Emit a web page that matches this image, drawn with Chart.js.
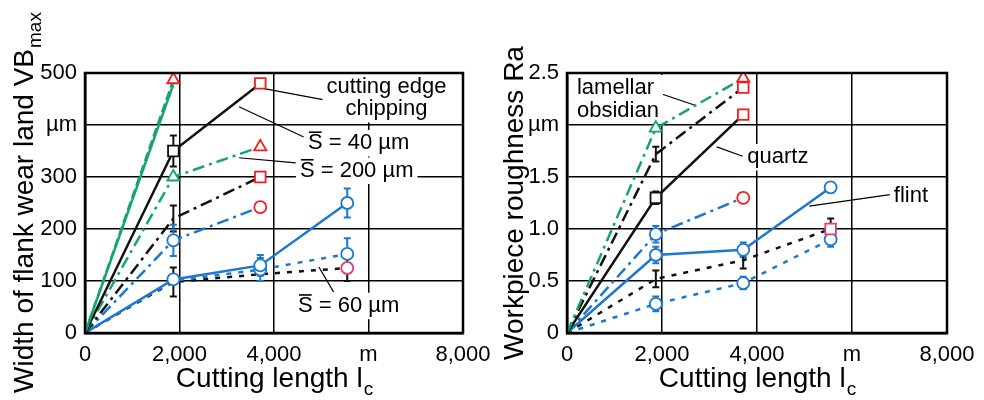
<!DOCTYPE html>
<html>
<head>
<meta charset="utf-8">
<script src="https://cdn.jsdelivr.net/npm/chart.js@4.4.1/dist/chart.umd.min.js"></script>
<style>
  body { margin: 0; background: #fff; width: 984px; height: 400px; overflow: hidden; position: relative; }
  .box { position: absolute; top: 0; height: 400px; }
</style>
</head>
<body>
<div class="box" style="left:0;width:500px"><canvas id="wear"></canvas></div>
<div class="box" style="left:490px;width:494px"><canvas id="rough"></canvas></div>
<script>
// cutting length of the measuring points (m)
const cuttingLength = [0, 1870, 3710, 5550];
const xTicks = ['0', '2,000', '4,000', 'm', '8,000'];
const wearTicks = ['0', '100', '200', '300', 'µm', '500'];
const roughTicks = ['0', '0.5', '1.0', '1.5', 'µm', '2.5'];

// width of flank wear land VBmax (µm)
const wearGreenSolid = [0, 478];
const wearGreenDash = [0, 487];
const wearBlackSolid = [0, 350, 480];
const wearGreenDashDot = [0, 300, 358];
const wearBlackDashDot = [0, 220, 300];
const wearBlueDashDot = [0, 178, 242];
const wearBlueSolid = [0, 103, 130, 250];
const wearBlueDot = [0, 100, 122, 152];
const wearBlackDot = [0, 98, 113, 125];
// scatter (half width of error bars)
const wearBlackSolidErr = [0, 30, 0];
const wearBlackDashDotErr = [0, 25, 0];
const wearBlueDashDotErr = [0, 30, 0];
const wearBlueSolidErr = [0, 0, 20, 28];
const wearBlueDotErr = [0, 0, 22, 30];
const wearBlackDotErr = [0, 28, 0, 25];

// workpiece roughness Ra (µm)
const roughGreenDashDot = [0, 1.97, 2.45];
const roughBlackDashDot = [0, 1.72, 2.36];
const roughBlackSolid = [0, 1.3, 2.1];
const roughBlueDashDot = [0, 0.95, 1.3];
const roughBlueSolid = [0, 0.75, 0.8, 1.4];
const roughBlackDot = [0, 0.52, 0.7, 1.0];
const roughBlueDot = [0, 0.28, 0.48, 0.9];
const roughBlackDashDotErr = [0, 0.07, 0];
const roughBlackSolidErr = [0, 0.06, 0];
const roughBlueDashDotErr = [0, 0.08, 0];
const roughBlueSolidErr = [0, 0.08, 0.07, 0.05];
const roughBlackDotErr = [0, 0.08, 0.08, 0.1];
const roughBlueDotErr = [0, 0.07, 0.06, 0.07];

// labels and leader lines (data units)
const wearNotes = [
  { x: 6380, y: 452, lines: ['cutting edge', 'chipping'] },
  { x: 5790, y: 365, lines: ['S = 40 µm'], bar: true },
  { x: 5750, y: 312, lines: ['S = 200 µm'], bar: true },
  { x: 5580, y: 52, lines: ['S = 60 µm'], bar: true }
];
const wearLeaders = [[3790, 470, 5260, 445], [3260, 435, 4630, 377], [3260, 337, 4460, 327], [4950, 127, 5260, 79]];
const roughNotes = [
  { x: 210, y: 2.245, lines: ['lamellar', 'obsidian'], align: 'left' },
  { x: 4440, y: 1.69, lines: ['quartz'] },
  { x: 7240, y: 1.32, lines: ['flint'] }
];
const roughLeaders = [[1916, 2.31, 2695, 2.19], [3150, 1.79, 3700, 1.70], [5100, 1.22, 6800, 1.33]];

const G = '#14a56d', B = '#1b78d0', K = '#111111', R = '#f21c1c', P = '#e0407a';
const FONT = '"Liberation Sans", Arial, sans-serif';
const SOLID = [], DASH = [9, 4], DASHDOT = [12, 5, 3, 5], DOT = [5, 7];

function line(ys, color, dash, shape, marks, errs, errColor) {
  return {
    data: ys.map((y, i) => ({ x: cuttingLength[i], y: y })),
    borderColor: color,
    borderWidth: 2.5,
    borderDash: dash,
    tension: 0,
    pointStyle: shape,
    pointRadius: ys.map((y, i) => (marks && marks[i]) ? (shape === 'rect' ? 7.5 : shape === 'triangle' ? 7 : 6) : 0),
    pointBorderColor: ys.map((y, i) => (marks && marks[i]) || color),
    pointBackgroundColor: '#fff',
    pointBorderWidth: 1.8,
    errs: errs || [],
    errColor: errColor || color
  };
}

const notesPlugin = {
  id: 'notes',
  beforeDatasetsDraw(chart, args, opts) {
    const ctx = chart.ctx, xs = chart.scales.x, ys = chart.scales.y;
    ctx.save();
    ctx.strokeStyle = '#000';
    ctx.lineWidth = 1.2;
    (opts.leaders || []).forEach(l => {
      ctx.beginPath();
      ctx.moveTo(xs.getPixelForValue(l[0]), ys.getPixelForValue(l[1]));
      ctx.lineTo(xs.getPixelForValue(l[2]), ys.getPixelForValue(l[3]));
      ctx.stroke();
    });
    ctx.font = '22px ' + FONT;
    ctx.textBaseline = 'middle';
    (opts.notes || []).forEach(n => {
      const px = xs.getPixelForValue(n.x), py = ys.getPixelForValue(n.y);
      const lh = 22.5;
      const w = Math.max(...n.lines.map(t => ctx.measureText(t).width));
      const h = n.lines.length * lh;
      const left = n.align === 'left' ? px : px - w / 2;
      ctx.fillStyle = '#fff';
      ctx.fillRect(left - 4, py - h / 2 - 2, w + 8, h + 4);
      ctx.fillStyle = '#000';
      n.lines.forEach((t, i) => {
        const ty = py - h / 2 + lh * (i + 0.5);
        const tw = ctx.measureText(t).width;
        const tx = n.align === 'left' ? px : px - tw / 2;
        ctx.fillText(t, tx, ty);
        if (n.bar) {
          const sw = ctx.measureText('S').width;
          ctx.beginPath();
          ctx.lineWidth = 1.6;
          ctx.moveTo(tx + 1, ty - 11);
          ctx.lineTo(tx + sw - 1, ty - 11);
          ctx.stroke();
        }
      });
    });
    ctx.restore();
  }
};

const errorPlugin = {
  id: 'errbars',
  beforeDatasetsDraw(chart) {
    const ctx = chart.ctx, xs = chart.scales.x, ys = chart.scales.y;
    ctx.save();
    ctx.lineWidth = 2;
    chart.data.datasets.forEach(ds => {
      ds.errs.forEach((e, i) => {
        if (!e) return;
        const p = ds.data[i];
        const px = xs.getPixelForValue(p.x);
        const top = ys.getPixelForValue(p.y + e), bot = ys.getPixelForValue(p.y - e);
        ctx.strokeStyle = ds.errColor;
        ctx.beginPath();
        ctx.moveTo(px, top); ctx.lineTo(px, bot);
        ctx.moveTo(px - 3.5, top); ctx.lineTo(px + 3.5, top);
        ctx.moveTo(px - 3.5, bot); ctx.lineTo(px + 3.5, bot);
        ctx.stroke();
      });
    });
    ctx.restore();
  }
};

const framePlugin = {
  id: 'frame',
  afterDraw(chart, args, opts) {
    const ctx = chart.ctx, a = chart.chartArea;
    ctx.save();
    ctx.strokeStyle = '#000';
    ctx.lineWidth = 2.5;
    ctx.strokeRect(a.left, a.top, a.right - a.left, a.bottom - a.top);
    // axis titles with subscripts
    ctx.fillStyle = '#000';
    ctx.textBaseline = 'alphabetic';
    const big = '28px ' + FONT, small = '19px ' + FONT;
    function drawSub(main, sub, cx, cy) {
      ctx.font = big;
      const w1 = ctx.measureText(main).width;
      ctx.font = small;
      const w2 = ctx.measureText(sub).width;
      const x0 = cx - (w1 + w2) / 2;
      ctx.font = big;
      ctx.fillText(main, x0, cy);
      ctx.font = small;
      ctx.fillText(sub, x0 + w1 + 1, cy + 8);
    }
    drawSub(opts.xTitle[0], opts.xTitle[1], (a.left + a.right) / 2, 387);
    ctx.translate(opts.yTitleX, (a.top + a.bottom) / 2);
    ctx.rotate(-Math.PI / 2);
    drawSub(opts.yTitle[0], opts.yTitle[1], 0, 0);
    ctx.restore();
  }
};

function makeChart(id, datasets, yMax, yStep, yLabels, areaLeft, padRight, notes, leaders, yTitle) {
  new Chart(document.getElementById(id), {
    type: 'line',
    data: { datasets: datasets },
    plugins: [notesPlugin, errorPlugin, framePlugin],
    options: {
      responsive: true,
      maintainAspectRatio: false,
      animation: false,
      layout: { padding: { top: 73, right: padRight, bottom: 0, left: 0 } },
      plugins: {
        legend: { display: false },
        tooltip: { enabled: false },
        notes: { notes: notes, leaders: leaders },
        frame: { xTitle: ['Cutting length l', 'c'], yTitle: yTitle, yTitleX: 33 }
      },
      scales: {
        x: {
          type: 'linear', min: 0, max: 8000,
          afterFit: s => { s.height = 67; },
          ticks: {
            stepSize: 2000, padding: 9, maxRotation: 0, color: '#000',
            font: { family: FONT, size: 22 },
            callback: (v, i) => xTicks[i]
          },
          grid: { color: '#000', lineWidth: 1.5, drawTicks: false },
          border: { color: '#000', width: 2.5 }
        },
        y: {
          min: 0, max: yMax,
          afterFit: s => { s.width = areaLeft; },
          ticks: {
            stepSize: yStep, padding: 8, color: '#000',
            font: { family: FONT, size: 22 },
            callback: (v, i) => yLabels[i]
          },
          grid: { color: '#000', lineWidth: 1.5, drawTicks: false },
          border: { color: '#000', width: 2.5 }
        }
      }
    }
  });
}

makeChart('wear', [
  line(wearGreenSolid, G, SOLID, 'triangle', null),
  line(wearGreenDash, G, DASH, 'triangle', [null, R]),
  line(wearBlackSolid, K, SOLID, 'rect', [null, K, R], wearBlackSolidErr),
  line(wearGreenDashDot, G, DASHDOT, 'triangle', [null, G, R]),
  line(wearBlackDashDot, K, DASHDOT, 'rect', [null, null, R], wearBlackDashDotErr),
  line(wearBlueDashDot, B, DASHDOT, 'circle', [null, B, R], wearBlueDashDotErr),
  line(wearBlueSolid, B, SOLID, 'circle', [null, B, B, B], wearBlueSolidErr),
  line(wearBlueDot, B, DOT, 'circle', [null, null, B, B], wearBlueDotErr),
  line(wearBlackDot, K, DOT, 'circle', [null, null, null, P], wearBlackDotErr, K)
], 500, 100, wearTicks, 85, 37, wearNotes, wearLeaders, ['Width of flank wear land VB', 'max']);

makeChart('rough', [
  line(roughGreenDashDot, G, DASHDOT, 'triangle', [null, G, R]),
  line(roughBlackDashDot, K, DASHDOT, 'rect', [null, null, R], roughBlackDashDotErr),
  line(roughBlackSolid, K, SOLID, 'rect', [null, K, R], roughBlackSolidErr),
  line(roughBlueDashDot, B, DASHDOT, 'circle', [null, B, R], roughBlueDashDotErr),
  line(roughBlueSolid, B, SOLID, 'circle', [null, B, B, B], roughBlueSolidErr),
  line(roughBlackDot, K, DOT, 'rect', [null, null, null, P], roughBlackDotErr),
  line(roughBlueDot, B, DOT, 'circle', [null, B, B, B], roughBlueDotErr)
], 2.5, 0.5, roughTicks, 77, 37, roughNotes, roughLeaders, ['Workpiece roughness Ra', '']);
</script>
</body>
</html>
